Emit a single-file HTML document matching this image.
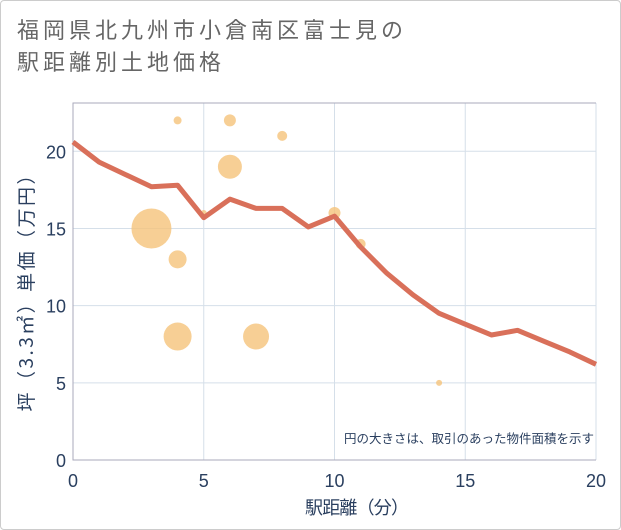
<!DOCTYPE html>
<html><head><meta charset="utf-8"><style>
body{margin:0;background:#fff;font-family:"Liberation Sans","Noto Sans CJK JP",sans-serif}
#card{position:absolute;left:0;top:0;width:619px;height:528px;border:1px solid #ccc;border-radius:4px}
#title{position:absolute;left:17px;top:13px;font-size:22px;letter-spacing:4px;line-height:32px;color:#666;font-family:"Noto Sans CJK JP",sans-serif}
</style></head><body>
<div id="card"></div>
<div id="title">福岡県北九州市小倉南区富士見の<br>駅距離別土地価格</div>
<svg id="chart" width="621" height="530" style="position:absolute;left:0;top:0"></svg>
<script>
const lineX=[0,1,2,3,4,5,6,7,8,9,10,11,12,13,14,15,16,17,18,19,20];
const lineY=[20.6,19.3,18.5,17.7,17.8,15.7,16.9,16.3,16.3,15.1,15.8,13.8,12.1,10.7,9.5,8.8,8.1,8.4,7.7,7.0,6.2];
const bubX=[4,6,8,6,3,4,4,7,5,10,11,14];
const bubY=[22,22,21,19,15,13,8,8,16,16,14,5];
const bubR=[4,6,5,12,20,9,14,13,3,6,5,3];
const xTicks=[0,5,10,15,20];
const yTicks=[0,5,10,15,20];
const L=73,R=596,T=103,B=460;
const sx=v=>L+(v-0)/20*(R-L);
const sy=v=>B-v/20*(B-151.3);
const svg=document.getElementById('chart');
const NS='http://www.w3.org/2000/svg';
function mk(t,a){const e=document.createElementNS(NS,t);for(const k in a)e.setAttribute(k,a[k]);svg.appendChild(e);return e;}
xTicks.forEach(v=>{const l=mk('line',{x1:sx(v),x2:sx(v),y1:T,y2:B,stroke:'#d5dfe9','stroke-width':1});

const t=mk('text',{x:sx(v),y:B+27,'text-anchor':'middle','font-size':18,fill:'#2a3f5f'});t.textContent=v;
});
yTicks.forEach(v=>{const l=mk('line',{x1:L,x2:R,y1:sy(v),y2:sy(v),stroke:'#d5dfe9','stroke-width':1});

const t=mk('text',{x:L-7,y:sy(v)+7,'text-anchor':'end','font-size':18,fill:'#2a3f5f'});t.textContent=v;
});
const ax=mk('path',{d:`M${R},${T}H${L}V${B}H${R}`,fill:'none',stroke:'#aab','stroke-width':1});

bubX.forEach((x,i)=>{const c=mk('circle',{cx:sx(x),cy:sy(bubY[i]),r:bubR[i],fill:'#f5c37a','fill-opacity':0.8});
});
const p=mk('polyline',{points:lineX.map((x,i)=>sx(x)+','+sy(lineY[i])).join(' '),fill:'none',stroke:'#d9705a','stroke-width':5,'stroke-linejoin':'round'});

const n=mk('text',{x:594,y:443,'text-anchor':'end','font-size':12.5,fill:'#2a3f5f','font-family':'Noto Sans CJK JP,sans-serif'});n.textContent='円の大きさは、取引のあった物件面積を示す';

const xt=mk('text',{x:357,y:514,'text-anchor':'middle','font-size':18,fill:'#2a3f5f','font-family':'Noto Sans CJK JP,sans-serif',textLength:104});xt.textContent='駅距離（分）';

const yt=mk('text',{x:0,y:0,'text-anchor':'middle','font-size':19,fill:'#2a3f5f','font-family':'Noto Sans CJK JP,sans-serif',textLength:246,transform:`translate(33,${(T+B)/2+7}) rotate(-90)`});yt.textContent='坪（3.3㎡）単価（万円）';

</script>
</body></html>
